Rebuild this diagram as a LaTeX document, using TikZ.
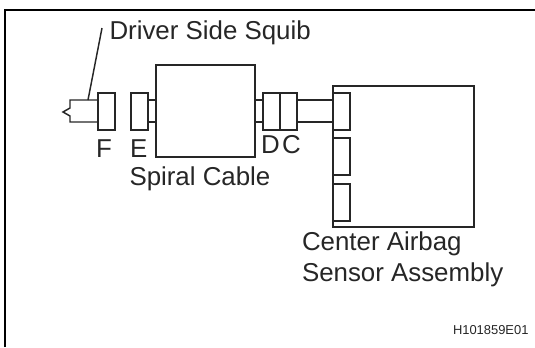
\documentclass[tikz,border=0pt]{standalone}
\usepackage{fontspec}
\setmainfont{Liberation Sans}
\begin{document}
\begin{tikzpicture}
			[x=0.75pt,y=-0.75pt,
			every node/.style={inner sep=0pt,outer sep=0pt},
			partbox/.style={draw=black!85,line width=1.1pt,anchor=north west},
			plugbox/.style={partbox,minimum width=12.75pt,minimum height=27.75pt},
			wire/.style={draw=black!85,line width=1.1pt},
			label/.style={font=\fontsize{19.4}{19.4}\selectfont,text=black!85,anchor=base west},
			frameline/.style={draw=black,line width=1.6pt}]
			\useasboundingbox (0,0) rectangle (535,347);
			% frame
			\coordinate (frameA) at (5,347);
			\coordinate (frameB) at (5,10);
			\coordinate (frameC) at (535,10);
			\draw[frameline] (frameA) -- (frameB) -- (frameC);
			% boxes
			\node[partbox,minimum width=74.25pt,minimum height=69pt] (cable) at (156,65) {};
			\node[partbox,minimum width=105.75pt,minimum height=105.75pt] (sensor) at (333,86) {};
			\node[plugbox] (plugF) at (98,93) {};
			\node[plugbox] (plugE) at (131,93) {};
			\node[plugbox] (plugD) at (263,93) {};
			\node[plugbox] (plugC) at (280,93) {};
			\node[plugbox] (portA) at (333,93) {};
			\node[plugbox] (portB) at (333,138) {};
			\node[plugbox] (portC) at (333,184) {};
			% squib
			\coordinate (squibA) at (98,100);
			\coordinate (squibB) at (70,100);
			\coordinate (squibC) at (70,108);
			\coordinate (squibD) at (63,112);
			\coordinate (squibE) at (70,116);
			\coordinate (squibF) at (70,122);
			\coordinate (squibG) at (98,122);
			\draw[wire] (squibA) -- (squibB) -- (squibC) -- (squibD) -- (squibE) -- (squibF) -- (squibG);
			\coordinate (leaderA) at (102,28);
			\coordinate (leaderB) at (88,100);
			\draw[wire] (leaderA) -- (leaderB);
			% cable stubs
			\draw[wire] (plugE.east |- squibA) -- (cable.west |- squibA);
			\draw[wire] (plugE.east |- squibG) -- (cable.west |- squibG);
			\draw[wire] (cable.east |- squibA) -- (plugD.west |- squibA);
			\draw[wire] (cable.east |- squibG) -- (plugD.west |- squibG);
			\draw[wire] (plugC.east |- squibA) -- (portA.west |- squibA);
			\draw[wire] (plugC.east |- squibG) -- (portA.west |- squibG);
			% labels
			\node[label] (squibText) at (109.5,39) {Driver Side Squib};
			\node[label] (textF) at (96,157) {F};
			\node[label] (textE) at (130,157) {E};
			\node[label] (textD) at (261,153) {D};
			\node[label] (textC) at (282,153) {C};
			\node[label] (cableText) at (129.5,185) {Spiral Cable};
			\node[label] (sensorText) at (302,250.5) {Center Airbag};
			\node[label] (sensorTextB) at (302,281) {Sensor Assembly};
			\node[label,font=\fontsize{9.7}{9.7}\selectfont] (code) at (453,334) {H101859E01};
		\end{tikzpicture}
\end{document}
